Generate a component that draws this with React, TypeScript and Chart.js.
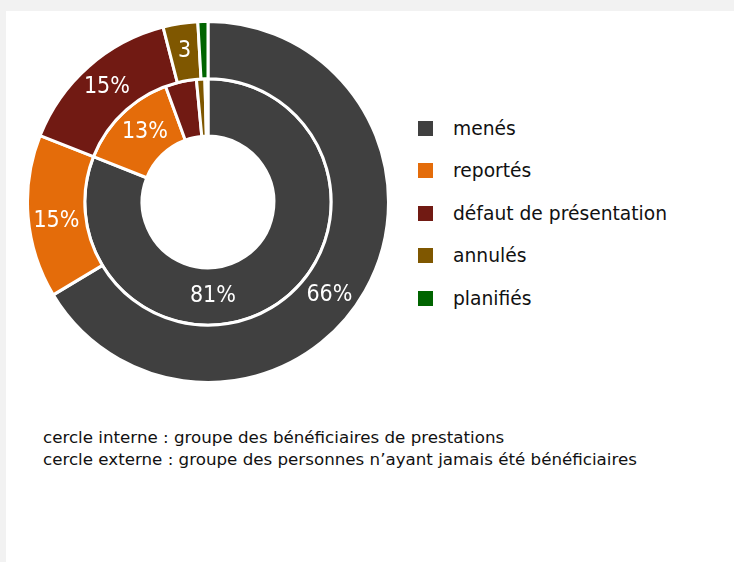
import React, { useEffect, useRef } from "react";
import { Chart, registerables } from "chart.js";

Chart.register(...registerables);

const categories = ["menés", "reportés", "défaut de présentation", "annulés", "planifiés"];
const colors = ["#404040", "#E46C0A", "#711A13", "#7F5700", "#006400"];
// outer ring: personnes n'ayant jamais été bénéficiaires
const outerValues = [66.4, 14.6, 15.0, 3.1, 0.9];
const outerLabels = ["66%", "15%", "15%", "3", ""];
// inner ring: bénéficiaires de prestations
const innerValues = [81.0, 13.4, 4.1, 1.1, 0.4];
const innerLabels = ["81%", "13%", "", "", ""];
const captionLines = [
  "cercle interne : groupe des bénéficiaires de prestations",
  "cercle externe : groupe des personnes n\u2019ayant jamais été bénéficiaires",
];

const LABEL_FONT = '"DejaVu Sans Condensed", "DejaVu Sans", sans-serif';
const TEXT_FONT = '"DejaVu Sans", sans-serif';

const labelPlugin = {
  id: "ringLabels",
  afterDatasetsDraw(chart: any) {
    const ctx = chart.ctx;
    const fracs: Record<string, number> = { "0-0": 0.533, "0-1": 0.45, "1-0": 0.607, "1-1": 0.55 };
    chart.data.datasets.forEach((ds: any, di: number) => {
      const meta = chart.getDatasetMeta(di);
      meta.data.forEach((arc: any, i: number) => {
        const text = ds.labels[i];
        if (!text) return;
        const { startAngle, endAngle, innerRadius, outerRadius, x, y } = arc.getProps(
          ["startAngle", "endAngle", "innerRadius", "outerRadius", "x", "y"],
          true
        );
        const f = fracs[di + "-" + i] ?? 0.5;
        const a = startAngle + (endAngle - startAngle) * f;
        const r = (innerRadius + outerRadius) / 2 + (di === 0 ? 1 : 0);
        ctx.save();
        ctx.fillStyle = "#ffffff";
        ctx.font = "23px " + LABEL_FONT;
        ctx.textAlign = "center";
        ctx.textBaseline = "middle";
        ctx.fillText(text, x + Math.cos(a) * r, y + Math.sin(a) * r);
        ctx.restore();
      });
    });
  },
};

export default function App() {
  const ref = useRef<HTMLCanvasElement | null>(null);
  useEffect(() => {
    if (!ref.current) return;
    const chart = new Chart(ref.current, {
      type: "doughnut",
      data: {
        labels: categories,
        datasets: [
          {
            data: outerValues,
            labels: outerLabels,
            backgroundColor: colors,
            borderColor: "#ffffff",
            borderWidth: 3,
          } as any,
          {
            data: innerValues,
            labels: innerLabels,
            backgroundColor: colors,
            borderColor: "#ffffff",
            borderWidth: 3,
          } as any,
        ],
      },
      options: {
        animation: false,
        responsive: false,
        cutout: "36.5%",
        layout: { padding: 0 },
        plugins: { legend: { display: false }, tooltip: { enabled: false } },
      },
      plugins: [labelPlugin],
    });
    return () => chart.destroy();
  }, []);

  return (
    <div
      style={{
        position: "fixed",
        left: 0,
        top: 0,
        width: 734,
        height: 562,
        background: "#f2f2f2",
        overflow: "hidden",
        fontFamily: TEXT_FONT,
      }}
    >
      <div style={{ position: "absolute", left: 6, top: 11, right: 0, bottom: 0, background: "#ffffff" }} />
      <canvas
        ref={ref}
        width={364}
        height={364}
        style={{ position: "absolute", left: 26, top: 20, width: 364, height: 364 }}
      />
      <div style={{ position: "absolute", left: 418, top: 107 }}>
        {categories.map((c, i) => (
          <div key={c} style={{ height: 42.5, display: "flex", alignItems: "center" }}>
            <div style={{ width: 15, height: 15, background: colors[i], marginRight: 20 }} />
            <span style={{ fontSize: 18.7, color: "#111" }}>{c}</span>
          </div>
        ))}
      </div>
      <div style={{ position: "absolute", left: 43, top: 426, fontSize: 16.7, lineHeight: "22px", color: "#111" }}>
        {captionLines.map((l) => (
          <div key={l} style={{ whiteSpace: "nowrap" }}>{l}</div>
        ))}
      </div>
    </div>
  );
}
